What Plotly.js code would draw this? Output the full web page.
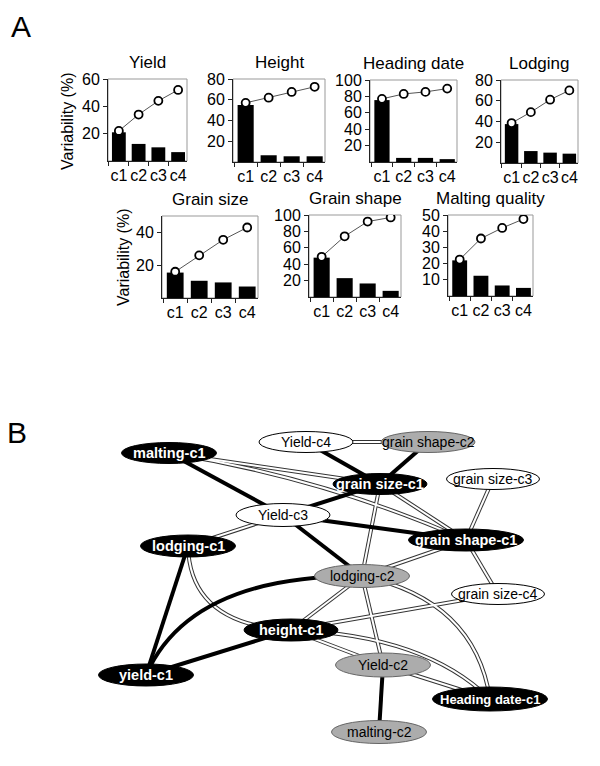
<!DOCTYPE html>
<html>
<head>
<meta charset="utf-8">
<script src="https://cdn.plot.ly/plotly-3.0.1.min.js"></script>
<style>
  body { margin: 0; background: #fff; }
  #plot { width: 600px; height: 766px; }
</style>
</head>
<body>
<div id="plot"></div>
<script>
// ---- Panel A data: variability explained by components c1..c4 (bars) and cumulative (line)
const components = ['c1', 'c2', 'c3', 'c4'];

const yieldBars = [21, 12.5, 10, 6.5];
const yieldCum = [22, 34, 44, 52];
const heightBars = [55, 6.5, 5.5, 5.5];
const heightCum = [57, 62, 67.5, 72.5];
const headingBars = [75.5, 5, 5, 3.5];
const headingCum = [77, 83, 85.5, 89.5];
const lodgingBars = [37.5, 11.5, 10, 9];
const lodgingCum = [38.5, 49, 61, 70];
const grainSizeBars = [15.5, 10.5, 9.5, 7];
const grainSizeCum = [16, 26, 35.5, 43];
const grainShapeBars = [48, 23, 16.5, 7.5];
const grainShapeCum = [49, 74, 92, 97];
const maltingBars = [22, 12.5, 6.5, 5];
const maltingCum = [22.5, 35.5, 42, 47.5];

const traitTitles = ['Yield', 'Height', 'Heading date', 'Lodging', 'Grain size', 'Grain shape', 'Malting quality'];
const yMax = [60, 80, 100, 80, 50, 100, 50];
const yTicks = [[20, 40, 60], [20, 40, 60, 80], [20, 40, 60, 80, 100], [20, 40, 60, 80],
                [20, 40], [20, 40, 60, 80, 100], [10, 20, 30, 40, 50]];

// ---- Panel B data: network of trait components
const nodeNames = ['malting-c1', 'Yield-c4', 'grain shape-c2', 'grain size-c1', 'grain size-c3',
                   'Yield-c3', 'grain shape-c1', 'lodging-c1', 'lodging-c2', 'grain size-c4',
                   'height-c1', 'yield-c1', 'Yield-c2', 'Heading date-c1', 'malting-c2'];
const nodeKind = ['c1', 'other', 'c2', 'c1', 'other',
                  'other', 'c1', 'c1', 'c2', 'other',
                  'c1', 'c1', 'c2', 'c1', 'c2'];

const thickEdges = [
  ['malting-c1', 'Yield-c3'], ['Yield-c3', 'lodging-c2'], ['Yield-c4', 'grain size-c1'],
  ['grain shape-c2', 'grain size-c1'], ['grain size-c1', 'Yield-c3'], ['Yield-c3', 'grain shape-c1'],
  ['lodging-c1', 'yield-c1'], ['yield-c1', 'lodging-c2'], ['yield-c1', 'height-c1'],
  ['Yield-c2', 'malting-c2']
];
const doubleEdges = [
  ['Yield-c4', 'grain shape-c2'], ['malting-c1', 'grain size-c1'], ['malting-c1', 'grain shape-c1'],
  ['Yield-c3', 'lodging-c1'], ['lodging-c1', 'height-c1'], ['grain size-c1', 'lodging-c2'],
  ['lodging-c2', 'Yield-c2'], ['grain size-c1', 'grain shape-c1'], ['grain size-c3', 'grain shape-c1'],
  ['grain shape-c1', 'grain size-c4'], ['grain shape-c1', 'lodging-c2'], ['lodging-c2', 'height-c1'],
  ['lodging-c2', 'Heading date-c1'], ['height-c1', 'grain size-c4'], ['height-c1', 'Heading date-c1'],
  ['height-c1', 'Yield-c2'], ['Yield-c2', 'Heading date-c1']
];

// ---- layout geometry (page pixels)
const W = 600, H = 766;
const boxes = [ // [left, right, top, bottom]
  [108, 187, 79, 161], [233, 325, 79, 162], [370, 457, 80, 162], [501, 578, 80, 163],
  [162, 258, 216, 298], [309, 401, 215, 297], [448, 533, 215, 296]
];
const nodePos = { // centre x, centre y, width, height
  'malting-c1': [169, 453, 95, 21], 'Yield-c4': [306, 442, 94, 21], 'grain shape-c2': [428, 442, 94, 21],
  'grain size-c1': [380, 484, 94, 21], 'grain size-c3': [493, 479, 93, 21], 'Yield-c3': [283, 515, 94, 23],
  'grain shape-c1': [466, 540, 115, 22], 'lodging-c1': [188, 546, 95, 22], 'lodging-c2': [362, 576, 95, 23],
  'grain size-c4': [498, 594, 93, 21], 'height-c1': [291, 630, 94, 22], 'yield-c1': [146, 675, 95, 22],
  'Yield-c2': [383, 665, 95, 24], 'Heading date-c1': [490, 699, 115, 24], 'malting-c2': [379, 732, 95, 23]
};
const bends = {
  'yield-c1|lodging-c2': [190, 575],
  'lodging-c1|height-c1': [190, 625],
  'malting-c1|grain shape-c1': [325, 478],
  'lodging-c2|Heading date-c1': [475, 600],
  'height-c1|Heading date-c1': [425, 635]
};

const FONT = 'Liberation Sans, Arial, sans-serif';
const px = v => v / W;
const py = v => 1 - v / H;

const barSets = [yieldBars, heightBars, headingBars, lodgingBars, grainSizeBars, grainShapeBars, maltingBars];
const cumSets = [yieldCum, heightCum, headingCum, lodgingCum, grainSizeCum, grainShapeCum, maltingCum];

let traces = [];
let layout = {
  width: W, height: H,
  margin: {l: 0, r: 0, t: 0, b: 0},
  paper_bgcolor: '#fff', plot_bgcolor: 'rgba(0,0,0,0)',
  showlegend: false,
  font: {family: FONT, color: '#000'},
  shapes: [], annotations: []
};

barSets.forEach((bars, i) => {
  const n = i === 0 ? '' : String(i + 1);
  const b = boxes[i];
  traces.push({
    type: 'bar', x: components, y: bars, xaxis: 'x' + n, yaxis: 'y' + n,
    marker: {color: '#000'}, width: 0.7, hoverinfo: 'skip'
  });
  traces.push({
    type: 'scatter', mode: 'lines+markers', x: components, y: cumSets[i], xaxis: 'x' + n, yaxis: 'y' + n,
    line: {color: '#555', width: 1},
    marker: {symbol: 'circle', size: 8, color: '#fff', line: {color: '#000', width: 1.8}},
    hoverinfo: 'skip'
  });
  layout['xaxis' + n] = {
    domain: [px(b[0]), px(b[1])], anchor: 'y' + n, type: 'category',
    tickmode: 'array', tickvals: components, ticktext: components,
    range: [-0.55, 3.45], tickson: 'boundaries', ticks: 'outside', ticklen: 4, tickcolor: '#222',
    showline: true, linecolor: '#222', linewidth: 1, showgrid: false, tickangle: 0,
    tickfont: {size: 16, family: FONT}, fixedrange: true
  };
  layout['yaxis' + n] = {
    domain: [py(b[3]), py(b[2])], anchor: 'x' + n,
    range: [0, yMax[i]], tickvals: yTicks[i], ticks: 'outside', ticklen: 4, tickcolor: '#222',
    showline: true, linecolor: '#222', linewidth: 1, showgrid: false, zeroline: false,
    tickfont: {size: 16, family: FONT}, fixedrange: true
  };
  // light frame on top/right like the original
  layout.shapes.push({
    type: 'rect', xref: 'x' + n + ' domain', yref: 'y' + n + ' domain',
    x0: 0, x1: 1, y0: 0, y1: 1, line: {color: '#999', width: 1}, layer: 'below'
  });
  layout.annotations.push({
    xref: 'paper', yref: 'paper', x: px((b[0] + b[1]) / 2), y: py(b[2] - 5),
    xanchor: 'center', yanchor: 'bottom', showarrow: false,
    text: traitTitles[i], font: {size: 17, family: FONT}
  });
});

// y axis titles and panel letters
[[68, 121], [124, 257]].forEach(p => {
  layout.annotations.push({
    xref: 'paper', yref: 'paper', x: px(p[0]), y: py(p[1]), textangle: -90,
    xanchor: 'center', yanchor: 'middle', showarrow: false,
    text: 'Variability (%)', font: {size: 16, family: FONT}
  });
});
layout.annotations.push({xref: 'paper', yref: 'paper', x: px(21), y: py(26), showarrow: false,
  xanchor: 'center', yanchor: 'middle', text: 'A', font: {size: 30, family: FONT}});
layout.annotations.push({xref: 'paper', yref: 'paper', x: px(17), y: py(432), showarrow: false,
  xanchor: 'center', yanchor: 'middle', text: 'B', font: {size: 30, family: FONT}});

// ---- Panel B network axes (data units equal page pixels)
layout.xaxis8 = {domain: [0, 1], range: [0, W], visible: false, fixedrange: true, anchor: 'y8'};
layout.yaxis8 = {domain: [0, py(383)], range: [H, 383], visible: false, fixedrange: true, anchor: 'x8'};
traces.push({type: 'scatter', x: [], y: [], xaxis: 'x8', yaxis: 'y8', hoverinfo: 'skip'});

function edgePath(a, b) {
  const p = nodePos[a], q = nodePos[b], c = bends[a + '|' + b];
  return c ? `M${p[0]},${p[1]} Q${c[0]},${c[1]} ${q[0]},${q[1]}`
           : `M${p[0]},${p[1]} L${q[0]},${q[1]}`;
}

// double edges: dark stroke with a white core gives two thin parallel lines
doubleEdges.forEach(e => {
  layout.shapes.push({type: 'path', xref: 'x8', yref: 'y8', path: edgePath(e[0], e[1]),
    line: {color: '#333', width: 4}});
});
doubleEdges.forEach(e => {
  layout.shapes.push({type: 'path', xref: 'x8', yref: 'y8', path: edgePath(e[0], e[1]),
    line: {color: '#fff', width: 2}});
});
thickEdges.forEach(e => {
  layout.shapes.push({type: 'path', xref: 'x8', yref: 'y8', path: edgePath(e[0], e[1]),
    line: {color: '#000', width: 4}});
});

const fills = {c1: '#000', c2: '#acacac', other: '#fff'};
nodeNames.forEach((name, i) => {
  const p = nodePos[name];
  const kind = nodeKind[i];
  let size = kind === 'c1' ? 14.5 : 14;
  if (name === 'Heading date-c1') size = 13;
  layout.shapes.push({
    type: 'circle', xref: 'x8', yref: 'y8',
    x0: p[0] - p[2] / 2, x1: p[0] + p[2] / 2, y0: p[1] - p[3] / 2, y1: p[1] + p[3] / 2,
    fillcolor: fills[kind], line: {color: kind === 'c2' ? '#666' : '#000', width: 1}
  });
  layout.annotations.push({
    xref: 'x8', yref: 'y8', x: p[0], y: p[1], showarrow: false,
    xanchor: 'center', yanchor: 'middle',
    text: kind === 'c1' ? '<b>' + name + '</b>' : name,
    font: {size: size, family: FONT, color: kind === 'c1' ? '#fff' : '#000'}
  });
});

Plotly.newPlot('plot', traces, layout, {displayModeBar: false, staticPlot: true});
</script>
</body>
</html>
